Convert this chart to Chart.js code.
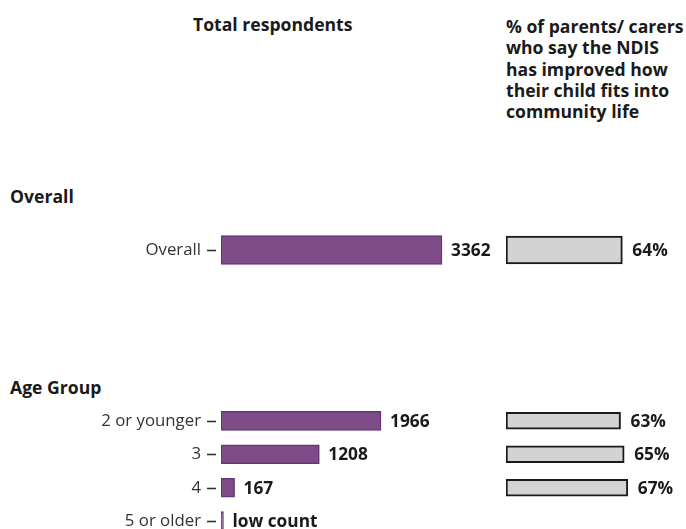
<!DOCTYPE html>
<html><head><meta charset="utf-8">
<script src="https://cdn.jsdelivr.net/npm/chart.js@4"></script>
<style>
html,body{margin:0;padding:0;width:686px;height:529px;overflow:hidden;background:#fff;font-family:'Open Sans',sans-serif;}
.txt{position:absolute;color:#1a1a1a;font-weight:bold;font-size:17.6px;line-height:21.3px;white-space:nowrap;}
canvas{position:absolute;}
</style></head><body>
<div class="txt" style="left:193px;top:14px;">Total respondents</div>
<div class="txt" style="left:506px;top:16px;">% of parents/ carers<br>who say the NDIS<br>has improved how<br>their child fits into<br>community life</div>
<div class="txt" style="left:10px;top:186px;">Overall</div>
<div class="txt" style="left:10px;top:377px;">Age Group</div>
<canvas id="c1" width="490" height="50" style="left:0;top:225px;"></canvas>
<canvas id="c2" width="196" height="50" style="left:490px;top:225px;"></canvas>
<canvas id="c3" width="490" height="154" style="left:0;top:394px;"></canvas>
<canvas id="c4" width="196" height="134" style="left:490px;top:404px;"></canvas>
<script>
const overallCategories = ["Overall"];
const overallRespondents = [3362];
const overallRespondentLabels = ["3362"];
const overallPercent = [64];

const ageCategories = ["2 or younger", "3", "4", "5 or older"];
const ageRespondents = [1966, 1208, 167, 30];
const ageRespondentLabels = ["1966", "1208", "167", "low count"];
const agePercent = [63, 65, 67, null];

const FONT = "'Open Sans', sans-serif";

const valueLabels = {
  id: 'valueLabels',
  afterDatasetsDraw(chart, args, opts) {
    const ctx = chart.ctx;
    const meta = chart.getDatasetMeta(0);
    ctx.save();
    ctx.font = "bold 17.3px " + FONT;
    ctx.fillStyle = '#1a1a1a';
    ctx.textBaseline = 'middle';
    ctx.textAlign = 'left';
    meta.data.forEach((el, i) => {
      const t = opts.labels[i];
      if (t == null) return;
      ctx.fillText(t, el.x + opts.offset, el.y + 1);
    });
    ctx.restore();
  }
};

const tickDashes = {
  id: 'tickDashes',
  afterDraw(chart, args, opts) {
    if (!opts.on) return;
    const ctx = chart.ctx;
    const s = chart.scales.y;
    ctx.save();
    ctx.strokeStyle = '#333';
    ctx.lineWidth = 1.6;
    for (let i = 0; i < s.ticks.length; i++) {
      const y = Math.round(s.getPixelForTick(i)) + 0.5;
      ctx.beginPath();
      ctx.moveTo(chart.chartArea.left - 14, y);
      ctx.lineTo(chart.chartArea.left - 5, y);
      ctx.stroke();
    }
    ctx.restore();
  }
};

function makeLeft(id, cats, vals, labels, max, thick) {
  new Chart(document.getElementById(id), {
    type: 'bar',
    data: { labels: cats, datasets: [{ data: vals, backgroundColor: '#7e4c87', borderColor: '#6a3478', borderWidth: 1.5, borderSkipped: false, barThickness: thick }] },
    options: {
      indexAxis: 'y', responsive: false, animation: false,
      layout: { padding: 0 },
      plugins: { legend: { display: false }, tooltip: { enabled: false },
        valueLabels: { labels: labels, offset: 9 }, tickDashes: { on: true } },
      scales: {
        x: { display: false, min: 0, max: max },
        y: { grid: { display: true, drawOnChartArea: false, drawTicks: true, tickLength: 20, color: 'rgba(0,0,0,0)' },
             border: { display: false },
             ticks: { padding: 0, color: '#333', font: { size: 16.8, family: FONT } },
             afterFit(s) { s.width = 221; } }
      }
    },
    plugins: [valueLabels, tickDashes]
  });
}

function makeRight(id, cats, vals, max, thick) {
  new Chart(document.getElementById(id), {
    type: 'bar',
    data: { labels: cats, datasets: [{ data: vals, backgroundColor: '#d3d3d3', borderColor: '#1a1a1a', borderWidth: 2, borderSkipped: false, barThickness: thick }] },
    options: {
      indexAxis: 'y', responsive: false, animation: false,
      layout: { padding: { left: 16 } },
      plugins: { legend: { display: false }, tooltip: { enabled: false },
        valueLabels: { labels: vals.map(v => v == null ? null : v + '%'), offset: 10 }, tickDashes: { on: false } },
      scales: {
        x: { display: false, min: 0, max: max },
        y: { display: false }
      }
    },
    plugins: [valueLabels, tickDashes]
  });
}

makeLeft('c1', overallCategories, overallRespondents, overallRespondentLabels, 4092, 29);
makeRight('c2', overallCategories, overallPercent, 99, 28);
makeLeft('c3', ageCategories, ageRespondents, ageRespondentLabels, 3305, 19);
makeRight('c4', ageCategories, agePercent, 99, 17);
</script>
</body></html>
